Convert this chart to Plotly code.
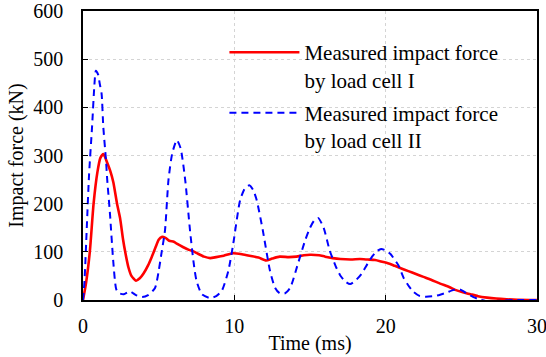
import plotly.graph_objects as go

# Load cell I (red, solid)
t1 = [0, 0.2, 0.45, 0.7, 0.95, 1.15, 1.35, 1.6, 1.8, 2.0, 2.25, 2.45, 2.65, 2.8, 3.0, 3.2, 3.5,
      3.75, 4.0, 4.3, 4.55, 4.8, 5.0, 5.2, 5.45, 5.7, 6.0, 6.2, 6.6, 7.0, 7.3, 7.6, 8.0, 8.4,
      8.8, 9.3, 9.9, 10.5, 11.0, 11.6, 12.1, 12.5, 13.0, 13.6, 14.1, 14.6, 15.0, 15.6, 16.0,
      16.5, 17.0, 17.7, 18.3, 18.8, 19.3, 19.7, 20.2, 20.6, 21.0, 21.5, 22.0, 22.5, 23.0, 23.6,
      24.2, 24.6, 25.1, 25.6, 26.1, 26.7, 27.3, 28.0, 28.7, 30]
f1 = [0, 35, 100, 200, 265, 295, 303, 285, 268, 245, 200, 170, 125, 98, 68, 50, 40,
      45, 55, 72, 90, 110, 125, 131, 129, 123, 121, 117, 110, 104, 101, 96, 90, 87,
      89, 92, 97, 95, 92, 88, 82, 86, 90, 89, 90, 93, 94, 93, 90,
      87, 85, 84, 85, 84, 83, 80, 76, 71, 66, 60, 54, 48, 42, 34,
      27, 21, 16, 12, 8, 5, 3, 1.5, 0.5, 0]

# Load cell II (blue, dashed)
t2 = [0, 0.1, 0.25, 0.4, 0.6, 0.75, 0.85, 1.0, 1.1, 1.23, 1.34, 1.52, 1.6, 1.78, 2.0, 2.2,
      2.4, 2.7, 3.1, 3.5, 3.9, 4.3, 4.76, 5.0, 5.2, 5.42, 5.65, 5.9, 6.2, 6.45, 6.75, 7.07,
      7.3, 7.5, 7.85, 8.39, 8.8, 9.17, 9.6, 9.93, 10.38, 10.7, 10.99, 11.25, 11.48, 11.88,
      12.36, 12.7, 13.0, 13.35, 13.7, 14.2, 14.67, 15.0, 15.3, 15.55, 15.9, 16.3, 16.7, 17.0,
      17.35, 17.65, 18.0, 18.4, 18.8, 19.08, 19.4, 19.7, 20.0, 20.3, 20.84, 21.2, 21.5, 21.8,
      22.2, 22.6, 23.2, 23.6, 24.0, 24.5, 24.9, 25.2, 25.5, 25.8, 26.2, 26.6, 27.2, 27.8,
      28.5, 30]
f2 = [0, 40, 150, 260, 360, 445, 476, 468, 450, 428, 360, 290, 250, 180, 80, 22,
      14, 12, 18, 10, 6, 10, 25, 60, 100, 145, 250, 305, 332, 315, 250, 145,
      80, 40, 12, 4, 8, 19, 60, 117, 207, 232, 238, 228, 207, 145,
      60, 25, 14, 14, 26, 75, 123, 150, 166, 170, 150, 103, 70, 51,
      38, 33, 40, 54, 75, 89, 101, 106, 103, 96, 72, 45, 30, 18,
      9, 7, 8, 11, 15, 21, 22, 17, 11, 6, 1, -2, -2, -1,
      0, 0]

name1 = "Measured impact force<br>by load cell I"
name2 = "Measured impact force<br>by load cell II"

x_ticks = [0, 10, 20, 30]
y_ticks = [0, 100, 200, 300, 400, 500, 600]

font = "Liberation Serif, Times New Roman, serif"
fs = 20

fig = go.Figure()
fig.add_trace(go.Scatter(x=t1, y=f1, mode="lines", name=name1, legendgroup="g1",
                         line=dict(color="#ff0000", width=2.6, shape="spline", smoothing=0.6)))
fig.add_trace(go.Scatter(x=t2, y=f2, mode="lines", name=name2, legendgroup="g2",
                         line=dict(color="#0000ff", width=2, dash="7px,5px", shape="spline", smoothing=0.6)))

axis_common = dict(showline=True, linecolor="black", linewidth=1.6, mirror=True,
                   ticks="inside", ticklen=5, tickcolor="black", tickwidth=1,
                   showgrid=True, gridcolor="#d4d4d4", griddash="dot", gridwidth=1,
                   zeroline=False, automargin=False, ticklabeloverflow="allow",
                   tickfont=dict(family=font, size=fs, color="black"))

fig.update_xaxes(range=[0, 30], tickvals=x_ticks, ticklabelstandoff=7,
                 title=dict(text="Time (ms)", font=dict(family=font, size=fs, color="black"), standoff=0),
                 **axis_common)
fig.update_yaxes(range=[0, 600], tickvals=y_ticks, ticklabelstandoff=14,
                 title=dict(text="Impact force (kN)", font=dict(family=font, size=fs, color="black"), standoff=4),
                 **axis_common)

fig.update_layout(
    width=546, height=357,
    margin=dict(l=83, r=9, t=11, b=57),
    paper_bgcolor="white", plot_bgcolor="white",
    showlegend=True,
    legend=dict(x=0.3115, y=0.927, xanchor="left", yanchor="top", valign="top",
                traceorder="grouped", tracegroupgap=3,
                bgcolor="rgba(0,0,0,0)", font=dict(family=font, size=21, color="black"),
                itemwidth=70),
)

fig.write_html("out.html")
